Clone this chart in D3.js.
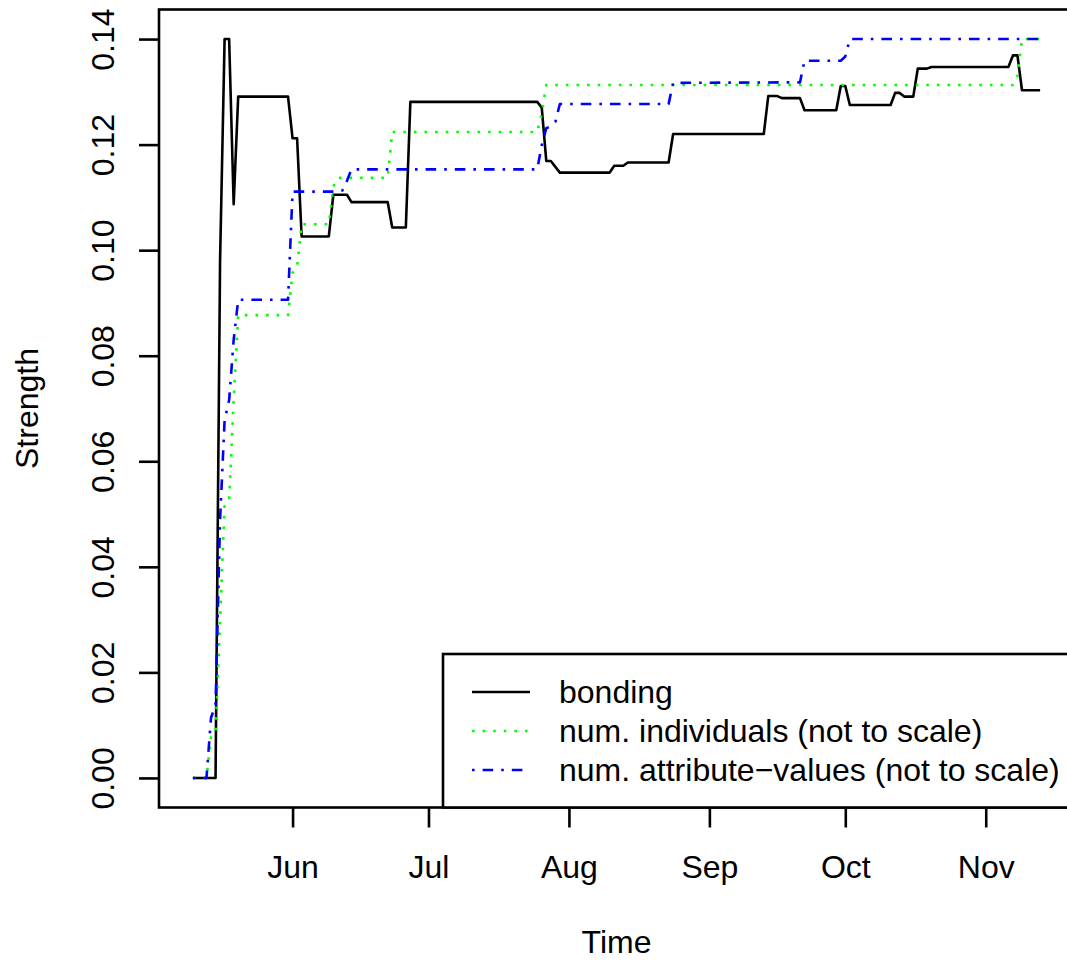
<!DOCTYPE html>
<html>
<head>
<meta charset="utf-8">
<script src="https://cdn.jsdelivr.net/npm/d3@7"></script>
<style>
  body { margin: 0; background: white; }
  text { font-family: "Liberation Sans", Arial, sans-serif; fill: black; }
</style>
</head>
<body>
<div id="chart"></div>
<script>
// bonding strength over time
var bondingDates = ["2010-05-10", "2010-05-15", "2010-05-16", "2010-05-17", "2010-05-18", "2010-05-19",
  "2010-05-20", "2010-05-31", "2010-06-01", "2010-06-02", "2010-06-03", "2010-06-09", "2010-06-10",
  "2010-06-13", "2010-06-14", "2010-06-22", "2010-06-23", "2010-06-26", "2010-06-27", "2010-07-25",
  "2010-07-26", "2010-07-27", "2010-07-28", "2010-07-30", "2010-08-10", "2010-08-11", "2010-08-13",
  "2010-08-14", "2010-08-23", "2010-08-24", "2010-09-13", "2010-09-14", "2010-09-16", "2010-09-17",
  "2010-09-21", "2010-09-22", "2010-09-29", "2010-09-30", "2010-10-01", "2010-10-02", "2010-10-11",
  "2010-10-12", "2010-10-13", "2010-10-14", "2010-10-16", "2010-10-17", "2010-10-19", "2010-10-20",
  "2010-11-06", "2010-11-07", "2010-11-08", "2010-11-09", "2010-11-13"];
var bondingValues = [0, 0, 0.098, 0.14, 0.14, 0.1087,
  0.1291, 0.1291, 0.1212, 0.1212, 0.1026, 0.1026, 0.1105,
  0.1105, 0.1091, 0.1091, 0.1043, 0.1043, 0.1281, 0.1281,
  0.1270, 0.1169, 0.1169, 0.1147, 0.1147, 0.1160, 0.1160,
  0.1166, 0.1166, 0.1220, 0.1220, 0.1292, 0.1292, 0.1288,
  0.1288, 0.1265, 0.1265, 0.1311, 0.1311, 0.1275, 0.1275,
  0.1298, 0.1298, 0.1291, 0.1291, 0.1344, 0.1344, 0.1347,
  0.1347, 0.1369, 0.1369, 0.1303, 0.1303];

// number of individuals (rescaled)
var indivDates = ["2010-05-10", "2010-05-13", "2010-05-14", "2010-05-15", "2010-05-16", "2010-05-17",
  "2010-05-18", "2010-05-19", "2010-05-20", "2010-05-31", "2010-06-01", "2010-06-02", "2010-06-03",
  "2010-06-09", "2010-06-10", "2010-06-11", "2010-06-22", "2010-06-23", "2010-07-25", "2010-07-26",
  "2010-07-27", "2010-11-07", "2010-11-08", "2010-11-09", "2010-11-13"];
var indivValues = [0, 0, 0.0078, 0.0085, 0.0296, 0.0515,
  0.0525, 0.0716, 0.0877, 0.0877, 0.0957, 0.0968, 0.1049,
  0.1049, 0.1120, 0.1137, 0.1137, 0.1224, 0.1224, 0.1258,
  0.1313, 0.1313, 0.1330, 0.1400, 0.1400];

// number of attribute-values (rescaled)
var attrDates = ["2010-05-10", "2010-05-13", "2010-05-14", "2010-05-15", "2010-05-16", "2010-05-17",
  "2010-05-18", "2010-05-19", "2010-05-20", "2010-05-31", "2010-06-01", "2010-06-11", "2010-06-12",
  "2010-06-13", "2010-06-14", "2010-07-25", "2010-07-26", "2010-07-27", "2010-07-28", "2010-07-29",
  "2010-07-30", "2010-08-23", "2010-08-24", "2010-09-21", "2010-09-22", "2010-09-30", "2010-10-01",
  "2010-10-02", "2010-11-13"];
var attrValues = [0, 0, 0.0114, 0.0138, 0.0489, 0.0678,
  0.0716, 0.0830, 0.0906, 0.0906, 0.1111, 0.1111, 0.1113,
  0.1131, 0.1153, 0.1153, 0.1199, 0.1231, 0.1235, 0.1243,
  0.1277, 0.1277, 0.1317, 0.1318, 0.1359, 0.1359, 0.1367,
  0.1400, 0.1400];

var yTicks = [0, 0.02, 0.04, 0.06, 0.08, 0.10, 0.12, 0.14];
var legendLabels = ["bonding", "num. individuals (not to scale)", "num. attribute\u2212values (not to scale)"];

var width = 1067, height = 962;
// plot box (right edge runs past the picture, as in the original)
var plotLeft = 159, plotRight = 1074, plotTop = 9.5, plotBottom = 807.5;
var fontSize = 32;

var parse = d3.timeParse("%Y-%m-%d");
function pairs(dates, values) {
  return dates.map(function (d, i) { return { date: parse(d), value: values[i] }; });
}
var series = [
  { data: pairs(bondingDates, bondingValues), color: "black", dash: null },
  { data: pairs(indivDates, indivValues), color: "#00ff00", dash: "2.6,8" },
  { data: pairs(attrDates, attrValues), color: "#0000ff", dash: "2.6,8,10.6,8" }
];

// R style 4% padding around the data range
var allDates = [].concat(series[0].data, series[1].data, series[2].data).map(function (d) { return d.date; });
var xExt = d3.extent(allDates);
var xPad = (xExt[1] - xExt[0]) * 0.04;
var x = d3.scaleTime()
  .domain([new Date(+xExt[0] - xPad), new Date(+xExt[1] + xPad)])
  .range([plotLeft, plotRight]);

var yPad = 0.14 * 0.04;
var y = d3.scaleLinear()
  .domain([0 - yPad, 0.14 + yPad])
  .range([plotBottom, plotTop]);

var svg = d3.select("#chart").append("svg")
  .attr("width", width)
  .attr("height", height)
  .style("background", "white");

var line = d3.line()
  .x(function (d) { return x(d.date); })
  .y(function (d) { return y(d.value); });

series.forEach(function (s) {
  svg.append("path")
    .datum(s.data)
    .attr("d", line)
    .attr("fill", "none")
    .attr("stroke", s.color)
    .attr("stroke-width", 2.6)
    .attr("stroke-linejoin", "round")
    .attr("stroke-dasharray", s.dash);
});

// x axis
var xAxis = d3.axisBottom(x)
  .ticks(d3.timeMonth.every(1))
  .tickFormat(d3.timeFormat("%b"))
  .tickSize(20)
  .tickPadding(0);
var gx = svg.append("g")
  .attr("transform", "translate(0," + plotBottom + ")")
  .call(xAxis);
gx.select(".domain").remove();
gx.selectAll(".tick line").attr("stroke", "black").attr("stroke-width", 2.6);
gx.selectAll(".tick text")
  .attr("y", 70)
  .attr("dy", null)
  .style("font-size", fontSize + "px")
  .style("font-family", "Liberation Sans, Arial, sans-serif");

// y axis
var yAxis = d3.axisLeft(y)
  .tickValues(yTicks)
  .tickFormat(d3.format(".2f"))
  .tickSize(20)
  .tickPadding(0);
var gy = svg.append("g")
  .attr("transform", "translate(" + plotLeft + ",0)")
  .call(yAxis);
gy.select(".domain").remove();
gy.selectAll(".tick line").attr("stroke", "black").attr("stroke-width", 2.6);
gy.selectAll(".tick text")
  .attr("x", null)
  .attr("dy", null)
  .attr("text-anchor", "middle")
  .attr("transform", "translate(-45,0) rotate(-90)")
  .style("font-size", fontSize + "px")
  .style("font-family", "Liberation Sans, Arial, sans-serif");

// box
svg.append("rect")
  .attr("x", plotLeft)
  .attr("y", plotTop)
  .attr("width", plotRight - plotLeft)
  .attr("height", plotBottom - plotTop)
  .attr("fill", "none")
  .attr("stroke", "black")
  .attr("stroke-width", 2.6);

// axis titles
svg.append("text")
  .attr("x", (plotLeft + plotRight) / 2)
  .attr("y", 953)
  .attr("text-anchor", "middle")
  .style("font-size", fontSize + "px")
  .text("Time");

svg.append("text")
  .attr("transform", "translate(38," + ((plotTop + plotBottom) / 2) + ") rotate(-90)")
  .attr("text-anchor", "middle")
  .style("font-size", fontSize + "px")
  .text("Strength");

// legend
var legLeft = 443, legTop = 654;
svg.append("rect")
  .attr("x", legLeft)
  .attr("y", legTop)
  .attr("width", plotRight - legLeft)
  .attr("height", plotBottom - legTop)
  .attr("fill", "white")
  .attr("stroke", "black")
  .attr("stroke-width", 2.6);

var leg = svg.selectAll(".leg")
  .data(series)
  .enter().append("g")
  .attr("class", "leg")
  .attr("transform", function (d, i) { return "translate(" + legLeft + "," + (692 + i * 39) + ")"; });

leg.append("line")
  .attr("x1", 29)
  .attr("x2", 87)
  .attr("stroke", function (d) { return d.color; })
  .attr("stroke-width", 2.6)
  .attr("stroke-dasharray", function (d) { return d.dash; });

leg.append("text")
  .attr("x", 116)
  .attr("dy", "0.35em")
  .style("font-size", fontSize + "px")
  .text(function (d, i) { return legendLabels[i]; });
</script>
</body>
</html>
